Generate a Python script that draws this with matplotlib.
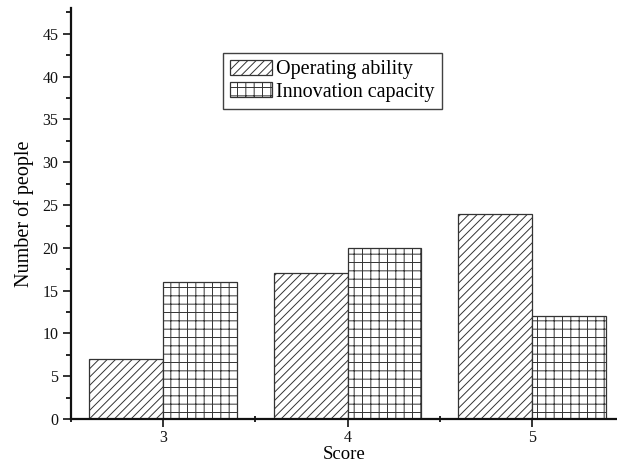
import matplotlib
matplotlib.use("Agg")
import matplotlib.pyplot as plt
from matplotlib.ticker import MultipleLocator
import numpy as np

plt.rcParams['font.family'] = ['Liberation Serif', 'DejaVu Serif']

scores = [3, 4, 5]
operating = [7, 17, 24]
innovation = [16, 20, 12]
series_names = ['Operating ability', 'Innovation capacity']

fig = plt.figure(figsize=(6.17, 4.65), dpi=100)
ax = fig.add_axes([71/617, 46/465, 546/617, 411/465])

x = np.array(scores, dtype=float)
w = 0.4
edge = '#333333'
plt.rcParams['hatch.linewidth'] = 0.7
ax.bar(x - w/2, operating, width=w, facecolor='white', edgecolor=edge,
       hatch='////', linewidth=0.9, label=series_names[0])
ax.bar(x + w/2, innovation, width=w, facecolor='white', edgecolor=edge,
       hatch='++', linewidth=0.9, label=series_names[1])

ax.set_xlim(2.5, 5.46)
ax.set_ylim(0, 48)
ax.set_xticks(scores)
ax.xaxis.set_minor_locator(MultipleLocator(0.5))
ax.yaxis.set_major_locator(MultipleLocator(5))
ax.yaxis.set_minor_locator(MultipleLocator(2.5))

for side in ['top', 'right']:
    ax.spines[side].set_visible(False)
for side in ['left', 'bottom']:
    ax.spines[side].set_linewidth(1.6)
    ax.spines[side].set_color('#111111')

ax.tick_params(axis='both', which='major', direction='out', length=6, width=1.2,
               labelsize=11.5, colors='#111111', pad=3)
ax.tick_params(axis='x', which='major', pad=2)
ax.tick_params(axis='both', which='minor', direction='out', length=3.5, width=1.2)
ax.tick_params(axis='x', which='minor', direction='inout', length=5)

ax.set_xlabel('Score', fontsize=13.5, labelpad=0)
ax.set_ylabel('Number of people', fontsize=14.5, labelpad=6)

leg = ax.legend(loc='upper left', bbox_to_anchor=(223/617, 1 - 53/465),
                bbox_transform=fig.transFigure, borderaxespad=0,
                fontsize=14.5, frameon=True, fancybox=False, shadow=False,
                handlelength=2.1, handleheight=0.75, handletextpad=0.2,
                labelspacing=0.15, borderpad=0.35)
leg.get_frame().set_edgecolor('#111111')
leg.get_frame().set_linewidth(1.0)

fig.savefig('out.png', dpi=100)
